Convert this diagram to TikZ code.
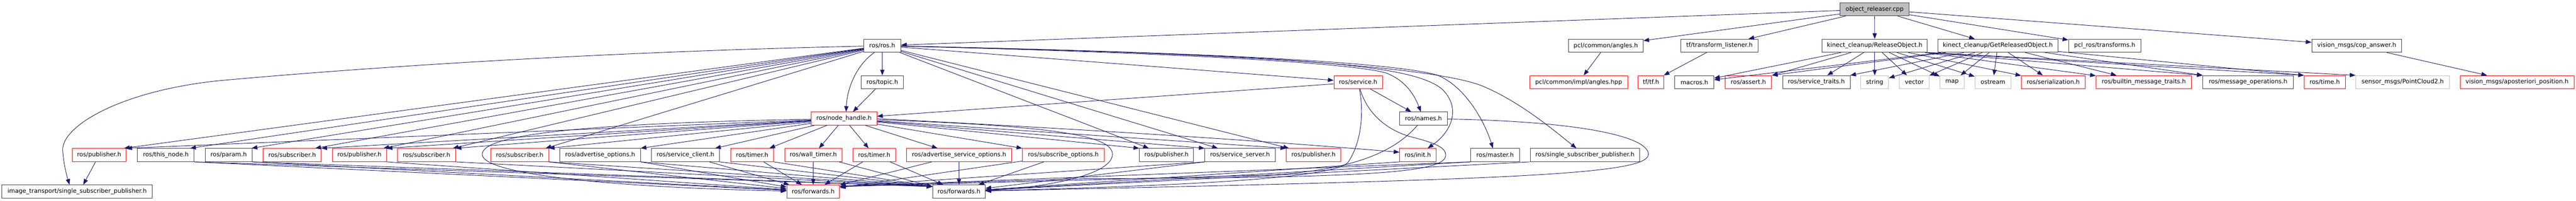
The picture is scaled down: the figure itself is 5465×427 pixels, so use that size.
\documentclass[tikz,border=0pt]{standalone}
\usepackage{fontspec}
\setmainfont{DejaVu Sans}
\usetikzlibrary{arrows.meta}
\definecolor{edgec}{HTML}{191970}
\definecolor{redb}{HTML}{FF0000}
\definecolor{grayb}{HTML}{BFBFBF}
\definecolor{blackb}{HTML}{404040}
\newcommand\mknode[6]{\node[#5, minimum width={#3-#2}] (#1) at ({(#2+#3)/2},#4) {#6};}
\tikzset{
  basebox/.style={draw, line width=1pt, minimum height=28pt, inner sep=0pt, fill=white,
    font=\fontsize{12.7pt}{15pt}\selectfont},
  nb/.style={basebox, draw=blackb},
  nr/.style={basebox, draw=redb},
  ng/.style={basebox, draw=grayb},
  nroot/.style={basebox, draw=blackb, fill=grayb},
  e/.style={draw=edgec, line width=1pt, -{Triangle[length=12pt,width=9pt]}}
}
\begin{document}
\begin{tikzpicture}[x=1pt,y=-1pt]
\useasboundingbox (0,0) rectangle (5465,427);
% row 0
\mknode{OR}{3903.7}{4050.3}{19.7}{nroot}{object\_releaser.cpp}
% row 1
\mknode{ros}{1832.3}{1911}{97.2}{nb}{ros/ros.h}
\mknode{pclang}{3327.3}{3486}{97.2}{nb}{pcl/common/angles.h}
\mknode{tfl}{3566.3}{3729.3}{97.2}{nb}{tf/transform\_listener.h}
\mknode{ro}{3865.7}{4088.7}{97.2}{nb}{kinect\_cleanup/ReleaseObject.h}
\mknode{gro}{4111}{4365.7}{97.2}{nb}{kinect\_cleanup/GetReleasedObject.h}
\mknode{pcltr}{4388.3}{4541.7}{97.2}{nb}{pcl\_ros/transforms.h}
\mknode{cop}{4904.3}{5095.3}{97.2}{nb}{vision\_msgs/cop\_answer.h}
% row 2
\mknode{topic}{1827}{1916.7}{174.7}{nb}{ros/topic.h}
\mknode{service}{2829.7}{2932.7}{174.7}{nr}{ros/service.h}
\mknode{pclimpl}{3245.3}{3452.7}{174.7}{nr}{pcl/common/impl/angles.hpp}
\mknode{tf}{3475}{3530}{174.7}{nr}{tf/tf.h}
\mknode{macros}{3553}{3636}{174.7}{nb}{macros.h}
\mknode{assert}{3659.7}{3758.7}{174.7}{nr}{ros/assert.h}
\mknode{svctraits}{3781.7}{3925}{174.7}{nb}{ros/service\_traits.h}
\mknode{string}{3947.7}{4006.7}{174.7}{ng}{string}
\mknode{vector}{4029.7}{4092.7}{174.7}{ng}{vector}
\mknode{map}{4115.7}{4166.7}{174.7}{ng}{map}
\mknode{ostream}{4189.7}{4266.3}{174.7}{ng}{ostream}
\mknode{serial}{4288.3}{4423.3}{174.7}{nr}{ros/serialization.h}
\mknode{builtin}{4446.7}{4649.3}{174.7}{nr}{ros/builtin\_message\_traits.h}
\mknode{msgops}{4673.3}{4865.3}{174.7}{nb}{ros/message\_operations.h}
\mknode{time}{4888.3}{4975.3}{174.7}{nr}{ros/time.h}
\mknode{pc2}{4997.7}{5196.7}{174.7}{ng}{sensor\_msgs/PointCloud2.h}
\mknode{apos}{5219}{5460.7}{174.7}{nr}{vision\_msgs/aposteriori\_position.h}
% row 3
\mknode{nh}{1720.7}{1860.3}{252.2}{nr}{ros/node\_handle.h}
\mknode{names}{2968.7}{3071}{252.2}{nb}{ros/names.h}
% row 4
\mknode{pubA}{153}{267.7}{329.7}{nr}{ros/publisher.h}
\mknode{thisnode}{291.7}{412}{329.7}{nb}{ros/this\_node.h}
\mknode{param}{435}{535.3}{329.7}{nb}{ros/param.h}
\mknode{subA}{558.3}{681.3}{329.7}{nr}{ros/subscriber.h}
\mknode{pubB}{705}{820}{329.7}{nr}{ros/publisher.h}
\mknode{subB}{843.7}{966.3}{329.7}{nr}{ros/subscriber.h}
\mknode{subC}{1041}{1164}{329.7}{nr}{ros/subscriber.h}
\mknode{advopt}{1187.7}{1358.7}{329.7}{nb}{ros/advertise\_options.h}
\mknode{svcclient}{1382.3}{1526.3}{329.7}{nb}{ros/service\_client.h}
\mknode{timerA}{1550.3}{1641.3}{329.7}{nr}{ros/timer.h}
\mknode{walltimer}{1664.7}{1786}{329.7}{nr}{ros/wall\_timer.h}
\mknode{timerB}{1809.3}{1900}{329.7}{nr}{ros/timer.h}
\mknode{advsvc}{1923.3}{2146}{329.7}{nr}{ros/advertise\_service\_options.h}
\mknode{subopt}{2169}{2342.7}{329.7}{nr}{ros/subscribe\_options.h}
\mknode{pubC}{2417.3}{2532}{329.7}{nb}{ros/publisher.h}
\mknode{svcserver}{2556}{2705.3}{329.7}{nb}{ros/service\_server.h}
\mknode{pubD}{2729}{2844}{329.7}{nr}{ros/publisher.h}
\mknode{init}{2969.3}{3046.3}{329.7}{nr}{ros/init.h}
\mknode{master}{3120.3}{3223.3}{329.7}{nb}{ros/master.h}
\mknode{rssp}{3246.3}{3478.7}{329.7}{nb}{ros/single\_subscriber\_publisher.h}
% row 5
\mknode{its}{4}{323.3}{407.2}{nb}{image\_transport/single\_subscriber\_publisher.h}
\mknode{fr}{1669}{1781.3}{407.2}{nr}{ros/forwards.h}
\mknode{fb}{1978.7}{2090.3}{407.2}{nb}{ros/forwards.h}

% ---- edges from the root
\draw[e] (OR) -- (ros);
\draw[e] (OR) -- (pclang);
\draw[e] (OR) -- (tfl);
\draw[e] (OR) -- (ro);
\draw[e] (OR) -- (gro);
\draw[e] (OR) -- (pcltr);
\draw[e] (OR) -- (cop);

% ---- ros/ros.h
\draw[e] (ros) .. controls (1200,112) and (700,150) .. (460,172) .. controls (250,195) and (130,270) .. (133,320) .. controls (135,350) and (142,375) .. ([xshift=-16pt]its.north);
\draw[e] (ros) -- ([xshift=-5pt]pubA.north east);
\draw[e] (ros) -- ([xshift=-9pt]thisnode.north east);
\draw[e] (ros) -- ([xshift=-2pt]param.north east);
\draw[e] (ros) -- ([xshift=-13pt]subA.north east);
\draw[e] (ros) -- ([xshift=-7pt]pubB.north east);
\draw[e] (ros) -- ([xshift=-6pt]subB.north east);
\draw[e] (ros) -- ([xshift=-7pt]subC.north east);
\draw[e] (ros) -- (topic);
\draw[e] ([xshift=23pt]ros.south west) .. controls (1815,140) and (1797,190) .. ([xshift=4.5pt]nh.north);
\draw[e] (ros) -- (service);
\draw[e] (ros) -- (pubC);
\draw[e] (ros) -- (svcserver);
\draw[e] (ros) -- ([xshift=6pt]pubD.north west);
\draw[e] (ros) .. controls (2400,110) and (2850,130) .. (2940,155) .. controls (2980,170) and (3000,200) .. (names);
\draw[e] (ros) .. controls (2800,118) and (3000,140) .. (3060,190) .. controls (3100,230) and (3080,280) .. (init);
\draw[e] (ros) .. controls (2500,110) and (2950,130) .. (3050,160) .. controls (3110,185) and (3150,260) .. (master);
\draw[e] (ros) .. controls (2600,112) and (3050,140) .. (3150,185) .. controls (3230,220) and (3300,280) .. (rssp);

% ---- ros/topic.h
\draw[e] (topic) -- ([xshift=19pt]nh.north);

% ---- ros/node_handle.h
\draw[e] (nh) -- (pubA.north east);
\draw[e] (nh) -- (subA.north east);
\draw[e] (nh) -- (pubB.north east);
\draw[e] (nh) -- (subB.north east);
\draw[e] (nh) -- (subC.north east);
\draw[e] (nh) -- (advopt.north east);
\draw[e] (nh) -- (svcclient);
\draw[e] (nh) -- (timerA);
\draw[e] (nh) -- (walltimer);
\draw[e] (nh) -- (timerB);
\draw[e] (nh) -- (advsvc);
\draw[e] (nh) -- (subopt.north west);
\draw[e] (nh) -- (pubC.north west);
\draw[e] (nh) -- (svcserver.north west);
\draw[e] (nh) -- (pubD.north west);
\draw[e] (nh.east) .. controls (2400,280) and (2750,305) .. ([yshift=6pt]init.west);
\draw[e] (nh) .. controls (1250,262) and (1023,285) .. (1023,328) .. controls (1023,375) and (1350,400) .. (fr);
\draw[e] (nh) .. controls (2250,268) and (2360,290) .. (2360,328) .. controls (2360,375) and (2200,400) .. (fb);

% ---- ros/service.h
\draw[e] (service) -- (nh);
\draw[e] (service) -- (names);
\draw[e] (service) .. controls (2893,235) and (2890,300) .. (2860,345) .. controls (2830,380) and (2500,395) .. (fb);
\draw[e] (service) .. controls (2900,240) and (2940,275) .. (2990,290) .. controls (3050,305) and (3067,315) .. (3067,330) .. controls (3067,368) and (2900,378) .. (2300,380) -- ([yshift=-3pt]fr.north east);

% ---- ros/names.h
\draw[e] (names) .. controls (2960,320) and (2880,360) .. (2700,372) -- ([yshift=-4pt]fr.north east);
\draw[e] (names) .. controls (3350,258) and (3497,290) .. (3497,328) .. controls (3497,372) and (3200,382) .. (fb);

% ---- row 4 to the forwards headers
\draw[e] (pubA) -- ([xshift=13pt]its.north);
\draw[e] (thisnode.south east) -- (fr);
\draw[e] (thisnode.south east) -- ([yshift=-4pt]fb.north west);
\draw[e] (param.south east) -- (fr);
\draw[e] (param.south east) -- ([yshift=-4pt]fb.north west);
\draw[e] (pubB.south east) -- (fr);
\draw[e] (subB.south east) -- ([yshift=-4pt]fb.north west);
\draw[e] (subC.south east) -- (fr);
\draw[e] (subC.south east) -- ([yshift=-4pt]fb.north west);
\draw[e] (advopt.south east) -- (fr);
\draw[e] (advopt.south east) -- ([yshift=-4pt]fb.north west);
\draw[e] (svcclient) -- (fr);
\draw[e] (svcclient.south east) -- ([yshift=-4pt]fb.north west);
\draw[e] (timerA) -- (fr);
\draw[e] (timerA.south east) -- ([yshift=-4pt]fb.north west);
\draw[e] (walltimer) -- (fr);
\draw[e] (walltimer) -- ([yshift=-4pt]fb.north west);
\draw[e] (timerB) -- (fr);
\draw[e] (timerB) -- (fb);
\draw[e] (advsvc) -- (fr);
\draw[e] (advsvc) -- (fb);
\draw[e] (subopt) -- (fr);
\draw[e] (subopt) -- (fb);
\draw[e] (svcserver.south west) -- ([yshift=-4pt]fr.north east);
\draw[e] (svcserver.south west) -- (fb);
\draw[e] (init.south west) -- (fb);
\draw[e] (master.south west) -- ([yshift=-4pt]fr.north east);
\draw[e] (master.south west) -- (fb);
\draw[e] (rssp.south west) -- (fb);

% ---- kinect_cleanup/ReleaseObject.h
\draw[e] (ro) -- (macros);
\draw[e] (ro) -- (assert);
\draw[e] (ro) -- (svctraits);
\draw[e] (ro) -- (string);
\draw[e] (ro) -- (vector);
\draw[e] (ro) -- (map);
\draw[e] (ro) -- (ostream);
\draw[e] (ro) -- (serial);
\draw[e] (ro) -- (builtin);
\draw[e] (ro.south east) -- (msgops.north west);
\draw[e] (ro.south east) -- (time.north west);
\draw[e] (ro.south east) -- (pc2.north west);

% ---- kinect_cleanup/GetReleasedObject.h
\draw[e] (gro) -- (macros);
\draw[e] (gro) -- (assert.north east);
\draw[e] (gro) -- (svctraits);
\draw[e] (gro) -- (string);
\draw[e] (gro) -- (vector);
\draw[e] (gro) -- (map);
\draw[e] (gro) -- (ostream);
\draw[e] (gro) -- (serial);
\draw[e] (gro) -- (builtin);
\draw[e] (gro) -- (msgops.north west);
\draw[e] (gro) -- (time.north west);

% ---- others
\draw[e] (pclang) -- (pclimpl);
\draw[e] (tfl) -- (tf);
\draw[e] (cop) -- (apos);
\end{tikzpicture}
\end{document}
